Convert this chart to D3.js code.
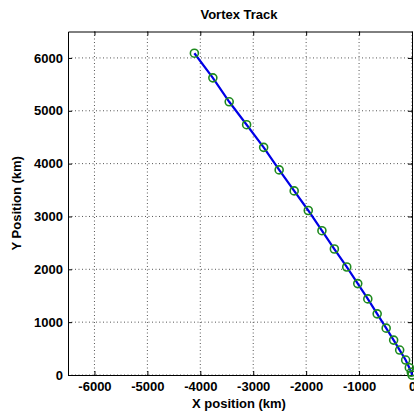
<!DOCTYPE html>
<html><head><meta charset="utf-8">
<script src="https://cdn.jsdelivr.net/npm/d3@7"></script>
<style>body{margin:0;background:#fff;}svg{display:block;font-family:"Liberation Sans",Arial,sans-serif;}</style>
</head><body><svg id="c" width="414" height="417"></svg>
<script>
const xVals = [-4112,-3763,-3454,-3125,-2803,-2510,-2226,-1960,-1702,-1467,-1233,-1025,-835,-658,-488,-347,-233,-120,-51,-13,0];
const yVals = [6089,5623,5170,4736,4308,3881,3484,3113,2730,2384,2044,1730,1440,1157,887,660,472,283,138,51,0];
const xTicks = [-6000,-5000,-4000,-3000,-2000,-1000,0];
const yTicks = [0,1000,2000,3000,4000,5000,6000];
const title = "Vortex Track", xLabel = "X position (km)", yLabel = "Y Position (km)";

const svg = d3.select("#c");
const L=68,R=412,T=31.5,B=375;
const x = d3.scaleLinear().domain([-6500,0]).range([L,R]);
const y = d3.scaleLinear().domain([0,6500]).range([B,T]);
const fmt = d => String(d);

svg.append("rect").attr("width",414).attr("height",417).attr("fill","#fff");
// grid
const g = svg.append("g");
g.selectAll(".gx").data(xTicks).join("line").attr("x1",d=>x(d)).attr("x2",d=>x(d)).attr("y1",T).attr("y2",B)
 .attr("stroke","#555").attr("stroke-width",1).attr("stroke-dasharray","1,2.5");
g.selectAll(".gy").data(yTicks).join("line").attr("y1",d=>y(d)).attr("y2",d=>y(d)).attr("x1",L).attr("x2",R)
 .attr("stroke","#555").attr("stroke-width",1).attr("stroke-dasharray","1,2.5");

// axes
const ax = svg.append("g").attr("transform",`translate(0,${B})`).call(d3.axisBottom(x).tickValues(xTicks).tickFormat(fmt).tickSizeInner(-4).tickSizeOuter(0).tickPadding(7));
const ay = svg.append("g").attr("transform",`translate(${L},0)`).call(d3.axisLeft(y).tickValues(yTicks).tickFormat(fmt).tickSizeInner(-4).tickSizeOuter(0).tickPadding(5));
svg.append("g").attr("transform",`translate(0,${T})`).call(d3.axisTop(x).tickValues(xTicks).tickSizeInner(-4).tickSizeOuter(0).tickFormat(""));
svg.append("g").attr("transform",`translate(${R},0)`).call(d3.axisRight(y).tickValues(yTicks).tickSizeInner(-4).tickSizeOuter(0).tickFormat(""));
svg.selectAll(".domain").attr("stroke","#000");
svg.selectAll(".tick line").attr("stroke","#000");
svg.selectAll(".tick text").attr("font-size",13).attr("font-weight","bold").attr("fill","#000").attr("font-family","Liberation Sans, Arial, sans-serif");

// line
const pts = xVals.map((v,i)=>[v,yVals[i]]);
svg.append("path").datum(pts).attr("d",d3.line().x(d=>x(d[0])).y(d=>y(d[1])))
 .attr("fill","none").attr("stroke","#0000e6").attr("stroke-width",2.2);
svg.selectAll(".m").data(pts).join("circle").attr("cx",d=>x(d[0])).attr("cy",d=>y(d[1])).attr("r",4)
 .attr("fill","none").attr("stroke","#1e8a1e").attr("stroke-width",1.6);

// text
svg.append("text").attr("x",239).attr("y",18.5).attr("text-anchor","middle").attr("font-size",13).attr("font-weight","bold").text(title);
svg.append("text").attr("x",239).attr("y",408).attr("text-anchor","middle").attr("font-size",13).attr("font-weight","bold").text(xLabel);
svg.append("text").attr("transform",`translate(21,${(T+B)/2}) rotate(-90)`).attr("text-anchor","middle").attr("font-size",13).attr("font-weight","bold").text(yLabel);
</script></body></html>
